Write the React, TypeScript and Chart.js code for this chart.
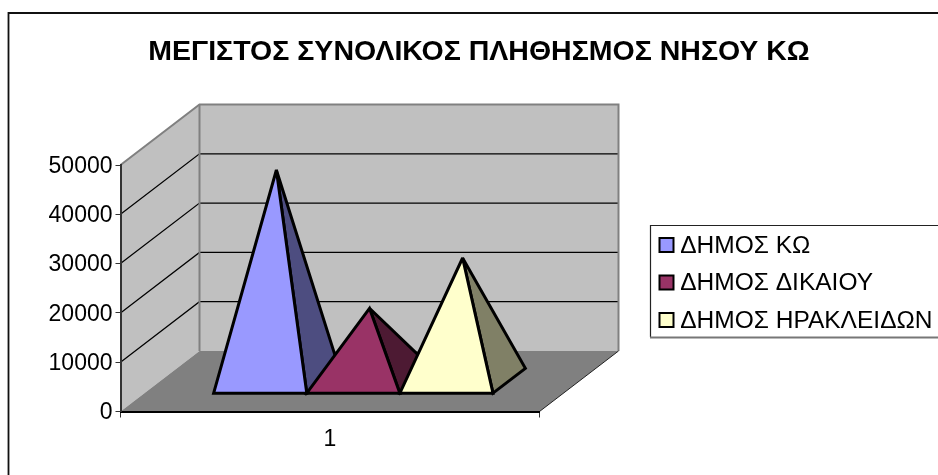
import React, { useEffect, useRef } from "react";
import { Chart, registerables } from "chart.js";

Chart.register(...registerables);

const categories = ["1"];
const seriesNames = ["ΔΗΜΟΣ ΚΩ", "ΔΗΜΟΣ ΔΙΚΑΙΟΥ", "ΔΗΜΟΣ ΗΡΑΚΛΕΙΔΩΝ"];
const kosValues = [42850];
const dikaioValues = [14800];
const irakleidonValues = [25000];
const faceColors = ["#9999ff", "#993366", "#ffffcc"];
const sideColors = ["#4d4d80", "#4d1a33", "#808066"];
const titleText = "ΜΕΓΙΣΤΟΣ ΣΥΝΟΛΙΚΟΣ ΠΛΗΘΗΣΜΟΣ ΝΗΣΟΥ ΚΩ";

const FONT = "'Liberation Sans', Arial, sans-serif";
const DEPTH_X = 79;
const DEPTH_Y = 60.5;
const NEAR = 0.295;
const FAR = 0.705;
const MID = 0.5;
const LEGEND_FONT = 24.5;
const LEGEND_PAD = 13;

function poly(ctx: CanvasRenderingContext2D, pts: number[][], fill?: string, stroke?: string, lw = 1) {
  ctx.beginPath();
  pts.forEach((p, i) => (i ? ctx.lineTo(p[0], p[1]) : ctx.moveTo(p[0], p[1])));
  if (fill) {
    ctx.closePath();
    ctx.fillStyle = fill;
    ctx.fill();
  }
  if (stroke) {
    ctx.strokeStyle = stroke;
    ctx.lineWidth = lw;
    ctx.stroke();
  }
}

const scene = {
  id: "scene",
  afterLayout(chart: any) {
    const lg = chart.legend;
    lg.left = 650 - (LEGEND_PAD - 9);
    lg.right = 938;
    lg.top = 246 - LEGEND_FONT / 2 - LEGEND_PAD;
    lg.bottom = 475;
    lg.width = lg.right - lg.left;
    lg.height = lg.bottom - lg.top;
  },
  beforeDraw(chart: any) {
    const ctx = chart.ctx as CanvasRenderingContext2D;
    const { left, right, top, bottom } = chart.chartArea;
    ctx.save();
    poly(ctx, [[8.5, 475], [8.5, 13], [938, 13]], undefined, "#111111", 1.8);
    const bl = left + DEPTH_X;
    const br = right + DEPTH_X;
    const bt = top - DEPTH_Y;
    const bb = bottom - DEPTH_Y;
    poly(ctx, [[left, top], [bl, bt], [bl, bb], [left, bottom]], "#c0c0c0");
    poly(ctx, [[bl, bt], [br, bt], [br, bb], [bl, bb]], "#c0c0c0");
    poly(ctx, [[left, bottom], [right, bottom], [br, bb], [bl, bb]], "#808080");
    const y = chart.scales.y;
    y.ticks.forEach((t: any) => {
      if (t.value === 0 || t.value === y.max) return;
      const p = y.getPixelForValue(t.value);
      poly(ctx, [[left, p], [bl, p - DEPTH_Y], [br, p - DEPTH_Y]], undefined, "#000000", 1.2);
    });
    poly(ctx, [[left, top], [bl, bt], [br, bt], [br, bb]], undefined, "#808080", 2);
    poly(ctx, [[bl, bt], [bl, bb]], undefined, "#808080", 2);
    poly(ctx, [[right, bottom], [br, bb]], undefined, "#222222", 1);
    ctx.restore();
  },
  beforeDatasetsDraw(chart: any) {
    const ctx = chart.ctx as CanvasRenderingContext2D;
    ctx.save();
    ctx.lineJoin = "miter";
    ctx.miterLimit = 3;
    chart.data.datasets.forEach((_: any, i: number) => {
      const bar = chart.getDatasetMeta(i).data[0] as any;
      const x0 = bar.x - bar.width / 2;
      const x1 = bar.x + bar.width / 2;
      const apex = [bar.x + MID * DEPTH_X, bar.y - MID * DEPTH_Y];
      const fl = [x0 + NEAR * DEPTH_X, bar.base - NEAR * DEPTH_Y];
      const fr = [x1 + NEAR * DEPTH_X, bar.base - NEAR * DEPTH_Y];
      const br = [x1 + FAR * DEPTH_X, bar.base - FAR * DEPTH_Y];
      poly(ctx, [fr, br, apex], sideColors[i]);
      ctx.closePath();
      ctx.strokeStyle = "#000000";
      ctx.lineWidth = 3;
      ctx.stroke();
      poly(ctx, [fl, fr, apex], faceColors[i]);
      ctx.closePath();
      ctx.stroke();
    });
    ctx.restore();
  },
  beforeDatasetDraw() {
    return false;
  },
  afterDraw(chart: any) {
    const ctx = chart.ctx as CanvasRenderingContext2D;
    ctx.save();
    poly(ctx, [[650.5, 337], [650.5, 225.5], [938, 225.5]], undefined, "#222222", 1.2);
    poly(ctx, [[650, 337.5], [938, 337.5]], undefined, "#777777", 2);
    faceColors.forEach((c, i) => {
      const cy = 245 + i * (LEGEND_FONT + LEGEND_PAD);
      ctx.fillStyle = c;
      ctx.strokeStyle = "#000000";
      ctx.lineWidth = 2;
      ctx.fillRect(659.5, cy - 7, 14, 14);
      ctx.strokeRect(659.5, cy - 7, 14, 14);
    });
    ctx.restore();
  },
};

export default function App() {
  const ref = useRef<HTMLCanvasElement | null>(null);
  useEffect(() => {
    if (!ref.current) return;
    const mk = (i: number, data: number[]) => ({
      label: seriesNames[i],
      data,
      backgroundColor: faceColors[i],
      borderColor: "#000000",
      borderWidth: 2,
    });
    const chart = new Chart(ref.current, {
      type: "bar",
      data: {
        labels: categories,
        datasets: [mk(0, kosValues), mk(1, dikaioValues), mk(2, irakleidonValues)],
      },
      plugins: [scene],
      options: {
        animation: false,
        responsive: false,
        layout: { padding: { left: 20, right: 0, top: 0, bottom: 0 } },
        plugins: {
          tooltip: { enabled: false },
          title: {
            display: true,
            text: titleText,
            color: "#000000",
            font: { family: FONT, size: 28.5, weight: "bold", lineHeight: 1.2 },
            padding: { top: 34.9, bottom: 95.9 },
          },
          legend: {
            display: true,
            position: "right",
            align: "start",
            maxWidth: 150,
            labels: {
              font: { family: FONT, size: LEGEND_FONT },
              color: "#000000",
              boxWidth: 9,
              boxHeight: 14,
              padding: LEGEND_PAD,
              generateLabels: (chart: any) =>
                chart.data.datasets.map((d: any, i: number) => ({
                  text: d.label,
                  fillStyle: "rgba(0,0,0,0)",
                  strokeStyle: "rgba(0,0,0,0)",
                  lineWidth: 0,
                  fontColor: "#000000",
                  hidden: false,
                  datasetIndex: i,
                })),
            },
          },
        },
        scales: {
          x: {
            offset: true,
            grid: { display: true, offset: true, drawOnChartArea: false, drawTicks: true, tickLength: 6, color: "#333333" },
            border: { display: true, color: "#000000", width: 2 },
            ticks: { color: "#000000", font: { family: FONT, size: 23 }, padding: 8 },
            afterFit: (s: any) => { s.height = 63.5; },
          },
          y: {
            min: 0,
            max: 50000,
            grid: { display: true, drawOnChartArea: false, drawTicks: true, tickLength: 5, color: "#333333" },
            border: { display: true, color: "#333333", width: 2 },
            ticks: {
              stepSize: 10000,
              color: "#000000",
              font: { family: FONT, size: 23 },
              padding: 3,
              labelOffset: 1.5,
              callback: (v: any) => String(v),
            },
            afterFit: (s: any) => { s.width = 100.5; },
          },
          gap: {
            position: "right",
            display: true,
            grid: { display: false },
            border: { display: false },
            ticks: { display: false },
            afterFit: (s: any) => { s.width = 248.5; },
          },
        },
        datasets: { bar: { categoryPercentage: 3 / 4.5, barPercentage: 1 } },
      },
    } as any);
    return () => chart.destroy();
  }, []);
  return (
    <div style={{ position: "absolute", left: 0, top: 0, width: 938, height: 475 }}>
      <canvas ref={ref} width={938} height={475} style={{ display: "block" }} />
    </div>
  );
}
